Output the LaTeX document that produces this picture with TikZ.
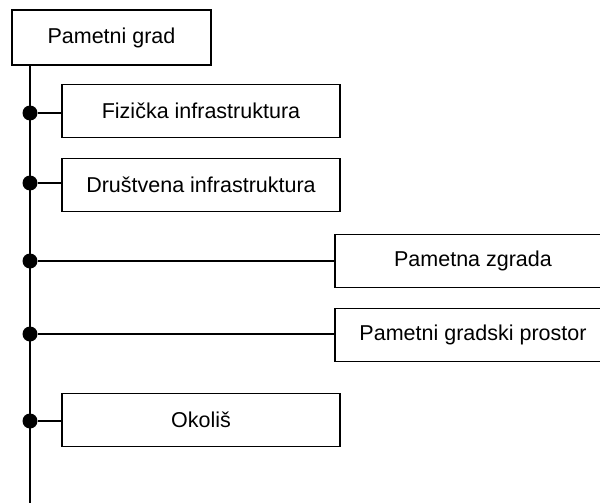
\documentclass[tikz,border=0pt]{standalone}
\usepackage{fontspec}
\setmainfont{Liberation Sans}

\begin{document}
\begin{tikzpicture}[x=0.5pt, y=-0.5pt, line width=0.8pt,
    box/.style={draw, minimum height=26.5pt, inner sep=0pt, font=\fontsize{10.75}{13}\selectfont},
    dot/.style={circle, fill, inner sep=0pt, minimum size=7.5pt}]
    \useasboundingbox (0,0) rectangle (600,503);

    % Root and trunk
    \node[box, minimum width=99.5pt, minimum height=27.5pt] (grad) at (111.5,37.5) {Pametni grad};
    \coordinate (kraj) at (30,503);
    \draw (grad.south -| kraj) -- (kraj);

    % Branches
    \node[box, minimum width=139pt] (fiz) at (201,111) {Fizička infrastruktura};
    \node[box, minimum width=139pt] (drus) at (201,185) {Društvena infrastruktura};
    \node[box, minimum width=138pt] (zgrada) at (473,261) {Pametna zgrada};
    \node[box, minimum width=138pt] (prostor) at (473,335) {Pametni gradski prostor};
    \node[box, minimum width=139pt] (okolis) at (201,420) {Okoliš};

    % Joints
    \node[dot] (d1) at (30,113) {};
    \node[dot] (d2) at (30,183) {};
    \node[dot] (d3) at (30,261) {};
    \node[dot] (d4) at (30,334) {};
    \node[dot] (d5) at (30,421) {};

    \draw (d1) -- (d1 -| fiz.west);
    \draw (d2) -- (d2 -| drus.west);
    \draw (d3) -- (d3 -| zgrada.west);
    \draw (d4) -- (d4 -| prostor.west);
    \draw (d5) -- (d5 -| okolis.west);
\end{tikzpicture}
\end{document}
